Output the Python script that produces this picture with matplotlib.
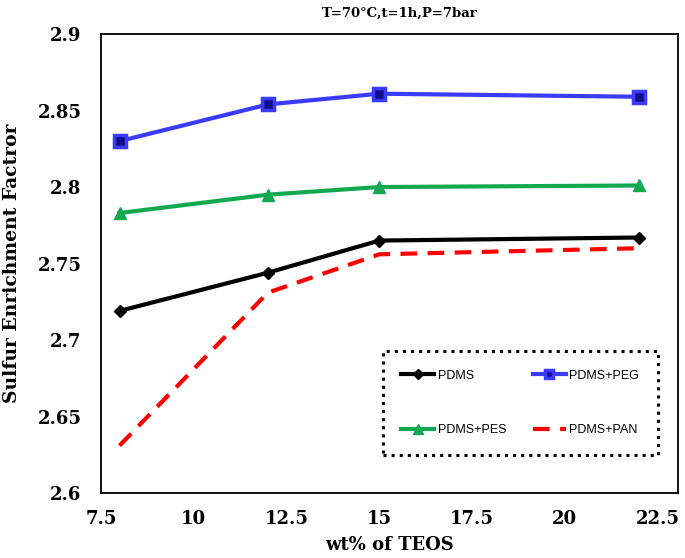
import matplotlib.pyplot as plt
from matplotlib.ticker import FixedLocator

teos = [8, 12, 15, 22]
pdms = [2.719, 2.744, 2.765, 2.767]
pdms_peg = [2.830, 2.854, 2.861, 2.859]
pdms_pes = [2.783, 2.795, 2.800, 2.801]
pdms_pan = [2.631, 2.731, 2.756, 2.760]

x_ticks = [7.5, 10, 12.5, 15, 17.5, 20, 22.5]
y_ticks = [2.6, 2.65, 2.7, 2.75, 2.8, 2.85, 2.9]

serif = 'DejaVu Serif'

fig = plt.figure(figsize=(6.85, 5.58), dpi=100)
ax = fig.add_axes([0.1474, 0.1165, 0.8424, 0.8225])

l1, = ax.plot(teos, pdms, color='black', lw=3, marker='D', ms=6.5, label='PDMS')
l2, = ax.plot(teos, pdms_peg, color='#3b3bff', lw=3, marker='s', ms=8,
              mfc='#10108a', mec='#3b3bff', mew=2.5, label='PDMS+PEG')
l3, = ax.plot(teos, pdms_pes, color='#12a850', lw=3, marker='^', ms=8.5, label='PDMS+PES')
l4, = ax.plot(teos, pdms_pan, color='#ff0000', lw=3, ls=(0, (4, 2.5)), label='PDMS+PAN')

ax.set_xlim(7.5, 23.05)
ax.set_ylim(2.6, 2.9)
ax.xaxis.set_major_locator(FixedLocator(x_ticks))
ax.yaxis.set_major_locator(FixedLocator(y_ticks))
ax.set_xticklabels([f'{v:g}' for v in x_ticks])
ax.set_yticklabels([f'{v:g}' for v in y_ticks])
ax.tick_params(length=0, pad=12, labelsize=13)
for lab in ax.get_xticklabels() + ax.get_yticklabels():
    lab.set_fontfamily(serif)
    lab.set_fontweight('bold')
ax.tick_params(axis='y', pad=14)

for s in ax.spines.values():
    s.set_linewidth(1.3)

ax.set_xlabel('wt% of TEOS', fontsize=13, fontweight='bold', family=serif, labelpad=6)
ax.set_ylabel('Sulfur Enrichment Factror', fontsize=13.5, fontweight='bold', family=serif, labelpad=12)
fig.text(400 / 685, 1 - 13 / 558, 'T=70°C,t=1h,P=7bar', ha='center', va='center',
         fontsize=9.5, fontweight='bold', family=serif)

leg = ax.legend(handles=[l1, l3, l2, l4], ncol=2, loc='lower left',
                bbox_to_anchor=(0.488, 0.083, 0.477, 0.235), mode='expand',
                prop={'family': 'Liberation Sans', 'size': 9},
                handlelength=2.6, handletextpad=0.3, labelspacing=3.4,
                columnspacing=1.0, borderpad=1.5, borderaxespad=0,
                markerscale=0.8, fancybox=False,
                edgecolor='black', framealpha=1)
leg.get_frame().set_linestyle(':')
leg.get_frame().set_linewidth(2.2)

fig.savefig('out.png', dpi=100)
